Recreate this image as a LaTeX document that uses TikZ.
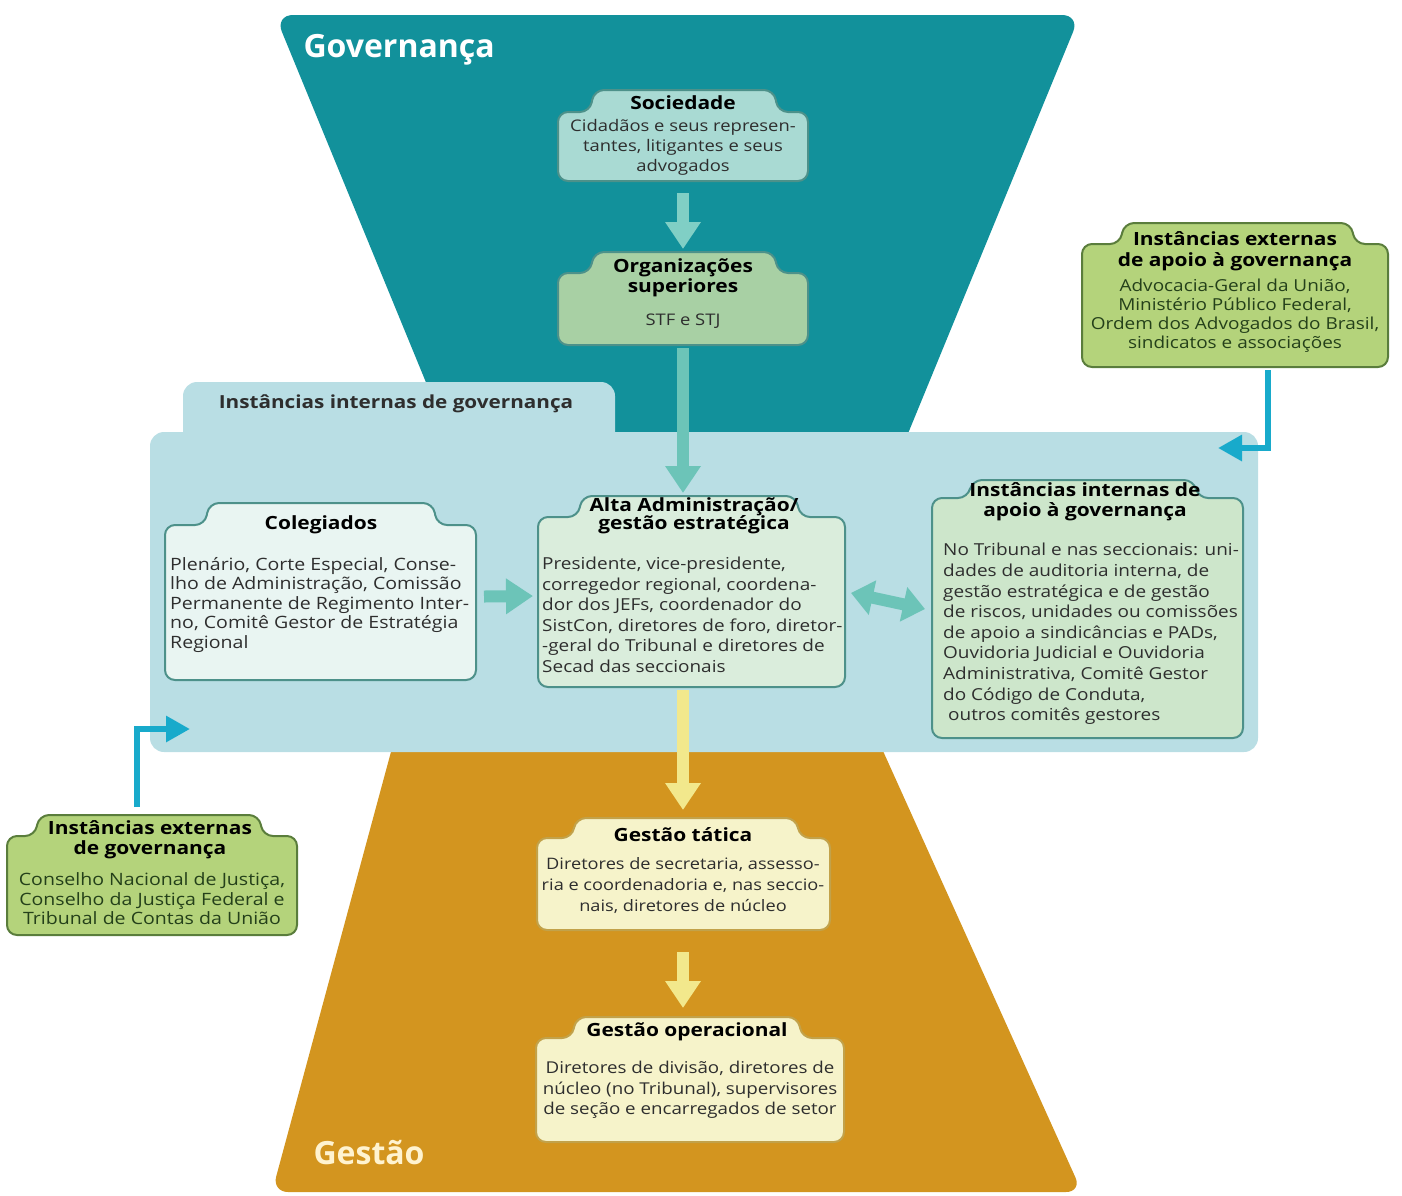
\documentclass[tikz,border=0pt]{standalone}
\usepackage{fontspec}
\setmainfont{Open Sans}[FakeStretch=1.15]
\newfontfamily\labelfont{Open Sans}
\usetikzlibrary{arrows.meta}

\definecolor{govteal}{HTML}{12919B}
\definecolor{gestgold}{HTML}{D3951F}
\definecolor{panelblue}{HTML}{B9DEE4}
\definecolor{socfill}{HTML}{A9DAD3}
\definecolor{orgfill}{HTML}{A8D0A4}
\definecolor{colfill}{HTML}{E9F5F2}
\definecolor{altafill}{HTML}{DAEDDC}
\definecolor{apoiofill}{HTML}{CDE6CB}
\definecolor{extfill}{HTML}{B4D37B}
\definecolor{gestfill}{HTML}{F6F3CA}
\definecolor{tealline}{HTML}{4D918A}
\definecolor{extline}{HTML}{5A7D3C}
\definecolor{gestline}{HTML}{C2A24A}
\definecolor{arrowteal}{HTML}{6CC4B8}
\definecolor{arrowlight}{HTML}{80CFC5}
\definecolor{arrowyellow}{HTML}{F2E88C}
\definecolor{arrowcyan}{HTML}{18AACB}
\definecolor{textdark}{HTML}{2E2E2E}
\definecolor{textgreen}{HTML}{24401A}
\definecolor{gestaotext}{HTML}{FFF3D0}

\tikzset{
  boxline/.style={line width=2pt, rounded corners=10pt},
  tealbox/.style={boxline, draw=tealline, fill=#1},
  extbox/.style={boxline, draw=extline, fill=extfill},
  gestbox/.style={boxline, draw=gestline, fill=gestfill},
  boxtitle/.style={font=\bfseries\fontsize{18.2}{19.5}\selectfont, align=center, inner sep=0, text=black},
  bodytext/.style 2 args={font=\fontsize{#1}{#2}\selectfont, inner sep=0, text=textdark},
  blockarrow/.style={line width=12pt, draw=#1, -{Triangle[width=34pt,length=27pt,fill=#1]}},
  dblarrow/.style={line width=12pt, draw=#1, {Triangle[width=34pt,length=22pt,fill=#1]}-{Triangle[width=34pt,length=22pt,fill=#1]}},
  cyanarrow/.style={line width=6pt, draw=arrowcyan, line join=miter, -{Triangle[width=25pt,length=24pt,fill=arrowcyan]}},
  shapenode/.style={inner sep=0, outer sep=0}
}

% box with a title tab on top:
% #1 name, #2 style, #3 x1, #4 body top, #5 x2, #6 bottom, #7 tab x1, #8 tab x2, #9 tab top
\newcommand\tabbox[9]{%
  \draw[#2] (#3,#6) -- (#3,#4) -- (#7,#4) -- ({#7+4},#9) -- ({#8-4},#9) -- (#8,#4) -- (#5,#4) -- (#5,#6) -- cycle;
  \node[shapenode, minimum width={#5-#3}, minimum height={#6-#4}] (#1) at ({(#3+#5)/2},{(#4+#6)/2}) {};
  \node[shapenode, minimum width={#8-#7}, minimum height={#4-#9}] (#1-tab) at ({(#7+#8)/2},{(#4+#9)/2}) {};
}

\begin{document}
\begin{tikzpicture}[x=1pt, y=-1pt]
\useasboundingbox (0,0) rectangle (1402,1195);

% governance funnel (top) and management funnel (bottom)
\fill[govteal, rounded corners=18pt] (275,15) -- (1080,15) -- (893,470) -- (462,470) -- cycle;
\fill[gestgold, rounded corners=16pt] (405,700) -- (860,700) -- (1082,1192) -- (272,1192) -- cycle;
\node[font=\labelfont\bfseries\fontsize{32}{35}\selectfont, text=white, anchor=west] (gov) at (300,50) {Governança};
\node[font=\labelfont\bfseries\fontsize{32}{35}\selectfont, text=gestaotext, anchor=west] (gest) at (310,1153) {Gestão};

% internal governance panel
\fill[panelblue, rounded corners=14pt] (183,382) rectangle (615,450);
\fill[panelblue, rounded corners=14pt] (150,432) rectangle (1258,752);
\node[font=\bfseries\fontsize{18}{21}\selectfont, text=textdark] (panel) at (396,404) {Instâncias internas de governança};

% boxes
\tabbox{soc}{tealbox=socfill}{558}{112}{808}{181}{590}{778}{90}
\node[boxtitle] (soc-title) at (683,103) {Sociedade};
\node[bodytext={16}{20}, align=center] (soc-text) at (683,147) {Cidadãos e seus represen-\\tantes, litigantes e seus\\advogados};

\tabbox{org}{tealbox=orgfill}{558}{273}{808}{345}{590}{778}{252}
\node[boxtitle] (org-title) at (683,278) {Organizações\\superiores};
\node[bodytext={16}{19}, align=center] (org-text) at (683,321) {STF e STJ};

\tabbox{extapoio}{extbox}{1082}{244}{1388}{367}{1120}{1355}{223}
\node[boxtitle, font=\bfseries\fontsize{18.2}{21}\selectfont] (extapoio-title) at (1235,251) {Instâncias externas\\de apoio à governança};
\node[bodytext={16.5}{19}, align=center, text=textgreen] (extapoio-text) at (1235,315.5) {Advocacia-Geral da União,\\Ministério Público Federal,\\Ordem dos Advogados do Brasil,\\sindicatos e associações};

\tabbox{col}{tealbox=colfill}{165}{525}{476}{680}{205}{437}{503}
\node[boxtitle] (col-title) at (321,525) {Colegiados};
\node[bodytext={17}{19.5}, align=left, anchor=west] (col-text) at (170,605) {Plenário, Corte Especial, Conse-\\lho de Administração, Comissão\\Permanente de Regimento Inter-\\no, Comitê Gestor de Estratégia\\Regional};

\tabbox{alta}{tealbox=altafill}{538}{517}{845}{687}{578}{800}{496}
\node[boxtitle, font=\bfseries\fontsize{18.2}{18.5}\selectfont] (alta-title) at (694,516) {Alta Administração/\\gestão estratégica};
\node[bodytext={16.5}{20.5}, align=left, anchor=west] (alta-text) at (542,615) {Presidente, vice-presidente,\\corregedor regional, coordena-\\dor dos JEFs, coordenador do\\SistCon, diretores de foro, diretor-\\-geral do Tribunal e diretores de\\Secad das seccionais};

\tabbox{apoio}{tealbox=apoiofill}{932}{498}{1243}{738}{968}{1198}{480}
\node[boxtitle, font=\bfseries\fontsize{18.2}{20}\selectfont] (apoio-title) at (1085,502) {Instâncias internas de\\apoio à governança};
\node[bodytext={16.5}{20.6}, align=left, anchor=west] (apoio-text) at (943,634) {No Tribunal e nas seccionais: uni-\\dades de auditoria interna, de\\gestão estratégica e de gestão\\de riscos, unidades ou comissões\\de apoio a sindicâncias e PADs,\\Ouvidoria Judicial e Ouvidoria\\Administrativa, Comitê Gestor\\do Código de Conduta,\\\ outros comitês gestores};

\tabbox{extgov}{extbox}{7}{836}{297}{935}{35}{263}{815}
\node[boxtitle, font=\bfseries\fontsize{18.2}{20}\selectfont] (extgov-title) at (150,840) {Instâncias externas\\de governança};
\node[bodytext={17}{19.5}, align=center, text=textgreen] (extgov-text) at (152,899) {Conselho Nacional de Justiça,\\Conselho da Justiça Federal e\\Tribunal de Contas da União};

\tabbox{tat}{gestbox}{537}{838}{830}{930}{572}{800}{818}
\node[boxtitle] (tat-title) at (683,835) {Gestão tática};
\node[bodytext={15.8}{21}, align=center] (tat-text) at (683,885) {Diretores de secretaria, assesso-\\ria e coordenadoria e, nas seccio-\\nais, diretores de núcleo};

\tabbox{op}{gestbox}{536}{1038}{844}{1142}{572}{802}{1017}
\node[boxtitle] (op-title) at (687,1032) {Gestão operacional};
\node[bodytext={16.3}{20.5}, align=center] (op-text) at (690,1090) {Diretores de divisão, diretores de\\núcleo (no Tribunal), supervisores\\de seção e encarregados de setor};

% connectors
\path (soc.south |- org-tab.north) coordinate (org-in);
\path (org.south |- alta-tab.north) coordinate (alta-in);
\path (org.south |- alta.south) coordinate (alta-out);
\path (org.south |- tat-tab.north) coordinate (tat-in);
\path (org.south |- tat.south) coordinate (tat-out);
\path (org.south |- op-tab.north) coordinate (op-in);

\draw[blockarrow=arrowlight] ([yshift=-12pt]soc.south) -- ([yshift=3pt]org-in);
\draw[blockarrow=arrowteal] ([yshift=-3pt]org.south) -- ([yshift=3pt]alta-in);
\draw[blockarrow=arrowteal] ([xshift=8pt,yshift=6pt]col.east) -- ([xshift=-5pt,yshift=6pt]alta.west);
\draw[dblarrow=arrowteal] ([xshift=6pt,yshift=9pt]alta.east) -- ([xshift=-7pt,yshift=9pt]apoio.west);
\draw[blockarrow=arrowyellow] ([yshift=-3pt]alta-out) -- ([yshift=8pt]tat-in);
\draw[blockarrow=arrowyellow] ([yshift=-22pt]tat-out) -- ([yshift=9pt]op-in);

\coordinate (apoio-in) at (1218,448);
\coordinate (gov-in) at (190,729);
\draw[cyanarrow] ([xshift=33pt,yshift=-3pt]extapoio.south) |- (apoio-in);
\draw[cyanarrow] ([xshift=-12pt,yshift=8pt]extgov-tab.north) |- (gov-in);
\end{tikzpicture}
\end{document}
